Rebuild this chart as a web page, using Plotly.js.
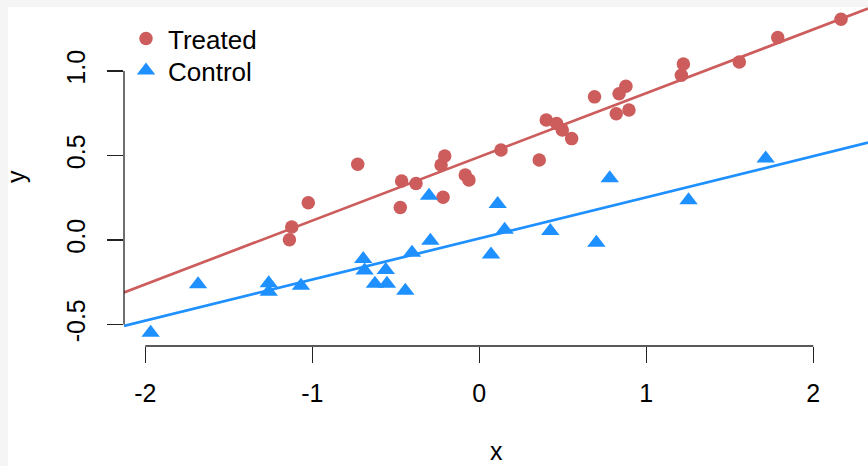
<!DOCTYPE html>
<html>
<head>
<meta charset="utf-8">
<script src="https://cdn.plot.ly/plotly-3.0.1.min.js"></script>
<style>
  html, body { margin: 0; padding: 0; background: #f5f5f5; width: 868px; height: 466px; overflow: hidden; }
  #paperbg { position: absolute; left: 8px; top: 7px; width: 860px; height: 459px; background: #ffffff; }
  #chart { position: absolute; left: 0; top: 0; width: 868px; height: 466px; }
</style>
</head>
<body>
<div id="paperbg"></div>
<div id="chart"></div>
<script>
// ---- data ----
const treatedX = [-1.137, -1.123, -1.024, -0.728, -0.465, -0.473, -0.379, -0.229, -0.207, -0.217,
                  -0.084, -0.062, 0.130, 0.359, 0.401, 0.463, 0.497, 0.553, 0.690, 0.820,
                  0.837, 0.878, 0.896, 1.210, 1.222, 1.557, 1.787, 2.166];
const treatedY = [0.002, 0.077, 0.221, 0.448, 0.349, 0.193, 0.335, 0.444, 0.497, 0.253,
                  0.385, 0.355, 0.533, 0.474, 0.710, 0.690, 0.651, 0.600, 0.847, 0.747,
                  0.866, 0.910, 0.769, 0.975, 1.041, 1.053, 1.198, 1.306];
const controlX = [-1.968, -1.684, -1.261, -1.261, -1.068, -0.695, -0.687, -0.625, -0.560, -0.553,
                  -0.443, -0.403, -0.301, -0.293, 0.070, 0.110, 0.152, 0.425, 0.701, 0.781,
                  1.253, 1.715];
const controlY = [-0.548, -0.262, -0.255, -0.306, -0.270, -0.113, -0.180, -0.259, -0.178, -0.259,
                  -0.300, -0.075, 0.262, -0.004, -0.085, 0.213, 0.061, 0.054, -0.016, 0.365,
                  0.236, 0.483];
// fitted lines (intercept, slope)
const treatedFit = [0.492, 0.377];
const controlFit = [0.0094, 0.2435];

const seriesNames = ['Treated', 'Control'];
const xTitle = 'x';
const yTitle = 'y';
const xTickVals = [-2, -1, 0, 1, 2];
const xTickText = ['-2', '-1', '0', '1', '2'];
const yTickVals = [-0.5, 0.0, 0.5, 1.0];
const yTickText = ['-0.5', '0.0', '0.5', '1.0'];

// ---- styling ----
const RED = '#CD5C5C';
const BLUE = '#1E90FF';
const AXIS = '#222222';
const FONT = 'Liberation Sans, Arial, Helvetica, sans-serif';
const xRange = [-2.1275, 2.3275];
const yRange = [-0.627, 1.3787];

function fitLine(fit) {
  return { x: xRange.slice(), y: xRange.map(v => fit[0] + fit[1] * v) };
}
const tl = fitLine(treatedFit), cl = fitLine(controlFit);

const traces = [
  { type: 'scatter', mode: 'markers', name: seriesNames[0], x: treatedX, y: treatedY, legend: 'legend',
    marker: { symbol: 'circle', size: 13.5, color: RED, line: { width: 0 } }, cliponaxis: false, hoverinfo: 'x+y' },
  { type: 'scatter', mode: 'markers', name: seriesNames[1], x: controlX, y: controlY, legend: 'legend2',
    marker: { symbol: 'triangle-up', size: 16, color: BLUE, line: { width: 0 } }, cliponaxis: false, hoverinfo: 'x+y' },
  { type: 'scatter', mode: 'lines', x: tl.x, y: tl.y, showlegend: false,
    line: { color: RED, width: 2.7 }, hoverinfo: 'skip' },
  { type: 'scatter', mode: 'lines', x: cl.x, y: cl.y, showlegend: false,
    line: { color: BLUE, width: 2.7 }, hoverinfo: 'skip' }
];

const legendCommon = { xanchor: 'left', yanchor: 'top', bgcolor: 'rgba(0,0,0,0)', itemwidth: 34,
                       font: { family: FONT, size: 26, color: '#000000' }, tracegroupgap: 0 };
const titleFont = { family: FONT, size: 25, color: '#000000' };

const layout = {
  width: 868, height: 466,
  margin: { l: 124, r: 0, t: 7, b: 120, pad: 0 },
  paper_bgcolor: 'rgba(0,0,0,0)', plot_bgcolor: '#ffffff',
  font: { family: FONT, size: 25, color: '#000000' },
  showlegend: true,
  legend: Object.assign({ x: 0.0, y: 0.976 }, legendCommon),
  legend2: Object.assign({ x: 0.0, y: 0.882 }, legendCommon),
  xaxis: {
    range: xRange, tickmode: 'array', tickvals: xTickVals, ticktext: xTickText,
    ticks: 'outside', ticklen: 16, tickwidth: 1.3, tickcolor: AXIS,
    showgrid: false, zeroline: false, showline: false, automargin: false,
    tickfont: { family: FONT, size: 25, color: '#000000' }, ticklabelstandoff: 9
  },
  yaxis: {
    range: yRange, tickmode: 'array', tickvals: yTickVals, ticktext: yTickText,
    ticks: 'outside', ticklen: 16, tickwidth: 1.3, tickcolor: AXIS, tickangle: -90,
    showgrid: false, zeroline: false, showline: false, automargin: false,
    tickfont: { family: FONT, size: 25, color: '#000000' }, ticklabelstandoff: 12
  },
  annotations: [
    { text: xTitle, xref: 'paper', yref: 'paper', x: 0.5, y: -0.3110, xanchor: 'center', yanchor: 'middle',
      showarrow: false, font: titleFont },
    { text: yTitle, xref: 'paper', yref: 'paper', x: -0.1460, y: 0.4994, xanchor: 'center', yanchor: 'middle',
      textangle: -90, showarrow: false, font: titleFont }
  ],
  shapes: [
    { type: 'line', xref: 'x', yref: 'paper', x0: xTickVals[0], x1: xTickVals[xTickVals.length - 1], y0: 0, y1: 0,
      line: { color: AXIS, width: 1.3 } },
    { type: 'line', xref: 'paper', yref: 'y', x0: 0, x1: 0, y0: yTickVals[0], y1: yTickVals[yTickVals.length - 1],
      line: { color: AXIS, width: 1.3 } }
  ]
};

Plotly.newPlot('chart', traces, layout, { displayModeBar: false, staticPlot: true });
</script>
</body>
</html>
